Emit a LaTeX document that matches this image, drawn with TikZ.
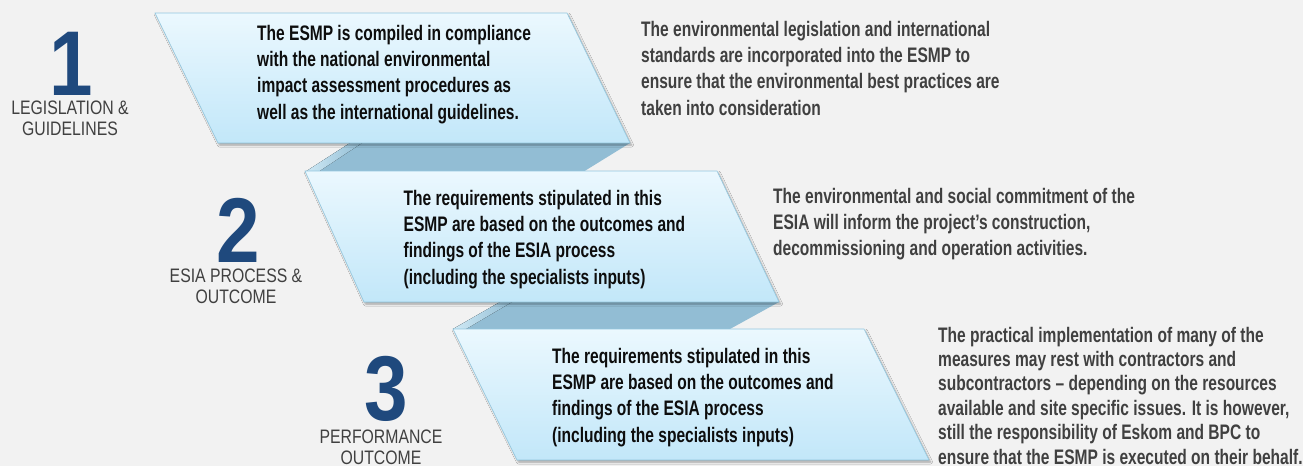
\documentclass[tikz,border=0pt]{standalone}
\usepackage{fontspec}
\setmainfont{Liberation Sans}
\newfontfamily\condfont[FakeStretch=0.74]{Liberation Sans}
\newfontfamily\labfont[FakeStretch=0.81]{Liberation Sans}
\newfontfamily\numfont[FakeStretch=0.85]{Liberation Sans}
\usetikzlibrary{shadows.blur}
\definecolor{bg}{HTML}{F2F2F2}
\definecolor{ptop}{HTML}{EBF8FE}
\definecolor{pbot}{HTML}{C2E7F9}
\definecolor{pedge}{HTML}{92C7DF}
\definecolor{foldc}{HTML}{92BDD4}
\definecolor{foldhi}{HTML}{CFE9F5}
\definecolor{numblue}{HTML}{1F497D}
\definecolor{txtgray}{HTML}{404040}
\definecolor{txtdark}{HTML}{0D0D0D}
\tikzset{
  panel/.style={top color=ptop, bottom color=pbot, draw=pedge, line width=0.6pt,
    blur shadow={shadow xshift=1.5pt, shadow yshift=-2pt, shadow opacity=35,
      shadow blur steps=6, shadow blur radius=2pt}},
  foldshape/.style={fill=foldc, draw=none},
  foldlight/.style={left color=foldhi, right color=foldc, draw=none},
  paneltext/.style={anchor=north west, inner sep=0pt, align=left, text=txtdark,
    font=\condfont\bfseries\fontsize{21}{26.3}\selectfont},
  sidetext/.style={anchor=north west, inner sep=0pt, align=left, text=txtgray,
    font=\condfont\bfseries\fontsize{21}{26.4}\selectfont},
  numtext/.style={anchor=base, inner sep=0pt, text=numblue, text depth=0pt,
    font=\numfont\bfseries\fontsize{92}{92}\selectfont},
  labtext/.style={anchor=north, inner sep=0pt, align=center, text=txtgray,
    font=\labfont\fontsize{19.5}{21}\selectfont},
}
\begin{document}
\begin{tikzpicture}[x=1pt,y=-1pt]
\useasboundingbox (0,0) rectangle (1303,466);
\fill[bg] (0,0) rectangle (1303,466);
% folds
\fill[foldshape] (350,143) -- (630,143) -- (583,172) -- (305,172) -- cycle;
\fill[foldlight] (350,143) -- (362,143) -- (318,172) -- (305,172) -- cycle;
\fill[foldshape] (500,302) -- (779,302) -- (730,329) -- (453,329) -- cycle;
\fill[foldlight] (500,302) -- (512,302) -- (466,329) -- (453,329) -- cycle;
% panels
\path[panel] (155,13) -- (567,13) -- (630,143) -- (218,143) -- cycle;
\path[panel] (305,171) -- (717,171) -- (779,302) -- (364,302) -- cycle;
\path[panel] (453,329) -- (864,329) -- (929,460) -- (517,460) -- cycle;
% panel texts
\node[paneltext] (t1) at (257,24.7) {The ESMP is compiled in compliance\\with the national environmental\\impact assessment procedures as\\well as the international guidelines.};
\node[paneltext] (t2) at (403.5,189.7) {The requirements stipulated in this\\ESMP are based on the outcomes and\\findings of the ESIA process\\(including the specialists inputs)};
\node[paneltext] (t3) at (552,347.7) {The requirements stipulated in this\\ESMP are based on the outcomes and\\findings of the ESIA process\\(including the specialists inputs)};
% side texts
\node[sidetext] (s1) at (641,20.7) {The environmental legislation and international\\standards are incorporated into the ESMP to\\ensure that the environmental best practices are\\taken into consideration};
\node[sidetext] (s2) at (773,187.7) {The environmental and social commitment of the\\ESIA will inform the project’s construction,\\decommissioning and operation activities.};
\node[sidetext, font=\condfont\bfseries\fontsize{21}{24.4}\selectfont] (s3) at (938,326.7) {The practical implementation of many of the\\measures may rest with contractors and\\subcontractors – depending on the resources\\available and site specific issues. It is however,\\still the responsibility of Eskom and BPC to\\ensure that the ESMP is executed on their behalf.};
% numbers and labels
\node[numtext] (n1) at (71,95) {1};
\node[labtext] (l1) at (70,100.5) {LEGISLATION \&\\GUIDELINES};
\node[numtext] (n2) at (238,262) {2};
\node[labtext] (l2) at (236,268.3) {ESIA PROCESS \&\\OUTCOME};
\node[numtext] (n3) at (386,420) {3};
\node[labtext] (l3) at (381,429.3) {PERFORMANCE\\OUTCOME};
\end{tikzpicture}
\end{document}
